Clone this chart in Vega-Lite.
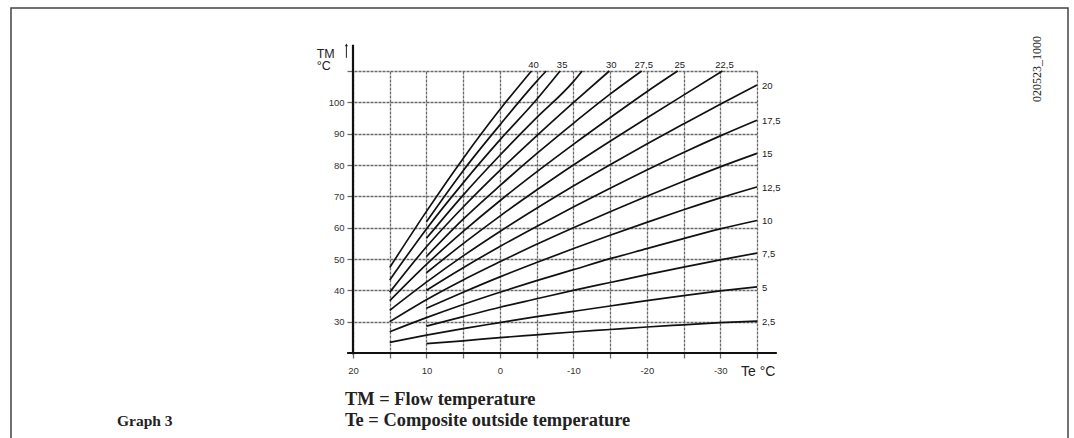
{
  "$schema": "https://vega.github.io/schema/vega-lite/v6.json",
  "width": 404,
  "height": 282,
  "autosize": {"type": "none"},
  "padding": {"left": 353, "top": 71, "right": 317, "bottom": 85},
  "background": "white",
  "config": {"view": {"stroke": null}, "text": {"font": "Liberation Sans"}},
  "datasets": {
    "curves": [
      {"c": 40, "te": 15, "tm": 47.3}, {"c": 40, "te": 10, "tm": 65.2}, {"c": 40, "te": 5, "tm": 82.1}, {"c": 40, "te": 0, "tm": 97.7}, {"c": 40, "te": -4.3, "tm": 110, "label": "40"},
      {"c": 37.5, "te": 10, "tm": 61.9}, {"c": 37.5, "te": 5, "tm": 78.2}, {"c": 37.5, "te": 0, "tm": 92.8}, {"c": 37.5, "te": -5, "tm": 106.7}, {"c": 37.5, "te": -6.3, "tm": 110},
      {"c": 35, "te": 15, "tm": 43.3}, {"c": 35, "te": 10, "tm": 59.6}, {"c": 35, "te": 5, "tm": 74.3}, {"c": 35, "te": 0, "tm": 88.0}, {"c": 35, "te": -5, "tm": 100.9}, {"c": 35, "te": -8.2, "tm": 110, "label": "35"},
      {"c": 32.5, "te": 10, "tm": 56.6}, {"c": 32.5, "te": 5, "tm": 70.4}, {"c": 32.5, "te": 0, "tm": 83.1}, {"c": 32.5, "te": -5, "tm": 95.1}, {"c": 32.5, "te": -10, "tm": 106.6}, {"c": 32.5, "te": -11.2, "tm": 110},
      {"c": 30, "te": 15, "tm": 39.4}, {"c": 30, "te": 10, "tm": 53.9}, {"c": 30, "te": 5, "tm": 66.6}, {"c": 30, "te": 0, "tm": 78.3}, {"c": 30, "te": -5, "tm": 89.3}, {"c": 30, "te": -10, "tm": 99.9}, {"c": 30, "te": -14.9, "tm": 110, "label": "30"},
      {"c": 27.5, "te": 10, "tm": 50.8}, {"c": 27.5, "te": 5, "tm": 62.7}, {"c": 27.5, "te": 0, "tm": 73.4}, {"c": 27.5, "te": -5, "tm": 83.6}, {"c": 27.5, "te": -10, "tm": 93.3}, {"c": 27.5, "te": -15, "tm": 102.6}, {"c": 27.5, "te": -19.3, "tm": 110, "label": "27,5"},
      {"c": 25, "te": 15, "tm": 36.7}, {"c": 25, "te": 10, "tm": 48.3}, {"c": 25, "te": 5, "tm": 58.8}, {"c": 25, "te": 0, "tm": 68.6}, {"c": 25, "te": -5, "tm": 77.8}, {"c": 25, "te": -10, "tm": 86.6}, {"c": 25, "te": -15, "tm": 95.1}, {"c": 25, "te": -20, "tm": 103.4}, {"c": 25, "te": -24.2, "tm": 110, "label": "25"},
      {"c": 22.5, "te": 10, "tm": 45.6}, {"c": 22.5, "te": 5, "tm": 54.9}, {"c": 22.5, "te": 0, "tm": 63.7}, {"c": 22.5, "te": -5, "tm": 72.0}, {"c": 22.5, "te": -10, "tm": 80.0}, {"c": 22.5, "te": -15, "tm": 87.6}, {"c": 22.5, "te": -20, "tm": 95.0}, {"c": 22.5, "te": -25, "tm": 102.3}, {"c": 22.5, "te": -30.3, "tm": 110, "label": "22,5"},
      {"c": 20, "te": 15, "tm": 33.6}, {"c": 20, "te": 10, "tm": 42.6}, {"c": 20, "te": 5, "tm": 51.0}, {"c": 20, "te": 0, "tm": 58.8}, {"c": 20, "te": -5, "tm": 66.2}, {"c": 20, "te": -10, "tm": 73.3}, {"c": 20, "te": -15, "tm": 80.1}, {"c": 20, "te": -20, "tm": 86.7}, {"c": 20, "te": -25, "tm": 93.1}, {"c": 20, "te": -30, "tm": 99.4}, {"c": 20, "te": -35, "tm": 105.5, "label": "20"},
      {"c": 17.5, "te": 10, "tm": 40.0}, {"c": 17.5, "te": 5, "tm": 47.2}, {"c": 17.5, "te": 0, "tm": 54.0}, {"c": 17.5, "te": -5, "tm": 60.4}, {"c": 17.5, "te": -10, "tm": 66.6}, {"c": 17.5, "te": -15, "tm": 72.6}, {"c": 17.5, "te": -20, "tm": 78.4}, {"c": 17.5, "te": -25, "tm": 84.0}, {"c": 17.5, "te": -30, "tm": 89.3}, {"c": 17.5, "te": -35, "tm": 94.3, "label": "17,5"},
      {"c": 15, "te": 15, "tm": 30.0}, {"c": 15, "te": 10, "tm": 37.0}, {"c": 15, "te": 5, "tm": 43.3}, {"c": 15, "te": 0, "tm": 49.1}, {"c": 15, "te": -5, "tm": 54.7}, {"c": 15, "te": -10, "tm": 60.0}, {"c": 15, "te": -15, "tm": 65.1}, {"c": 15, "te": -20, "tm": 70.0}, {"c": 15, "te": -25, "tm": 74.8}, {"c": 15, "te": -30, "tm": 79.4}, {"c": 15, "te": -35, "tm": 83.7, "label": "15"},
      {"c": 12.5, "te": 10, "tm": 34.3}, {"c": 12.5, "te": 5, "tm": 39.4}, {"c": 12.5, "te": 0, "tm": 44.3}, {"c": 12.5, "te": -5, "tm": 48.9}, {"c": 12.5, "te": -10, "tm": 53.3}, {"c": 12.5, "te": -15, "tm": 57.6}, {"c": 12.5, "te": -20, "tm": 61.7}, {"c": 12.5, "te": -25, "tm": 65.7}, {"c": 12.5, "te": -30, "tm": 69.5}, {"c": 12.5, "te": -35, "tm": 73.0, "label": "12,5"},
      {"c": 10, "te": 15, "tm": 26.8}, {"c": 10, "te": 10, "tm": 31.3}, {"c": 10, "te": 5, "tm": 35.5}, {"c": 10, "te": 0, "tm": 39.4}, {"c": 10, "te": -5, "tm": 43.1}, {"c": 10, "te": -10, "tm": 46.6}, {"c": 10, "te": -15, "tm": 50.1}, {"c": 10, "te": -20, "tm": 53.3}, {"c": 10, "te": -25, "tm": 56.5}, {"c": 10, "te": -30, "tm": 59.6}, {"c": 10, "te": -35, "tm": 62.3, "label": "10"},
      {"c": 7.5, "te": 10, "tm": 28.6}, {"c": 7.5, "te": 5, "tm": 31.6}, {"c": 7.5, "te": 0, "tm": 34.6}, {"c": 7.5, "te": -5, "tm": 37.3}, {"c": 7.5, "te": -10, "tm": 40.0}, {"c": 7.5, "te": -15, "tm": 42.5}, {"c": 7.5, "te": -20, "tm": 45.0}, {"c": 7.5, "te": -25, "tm": 47.4}, {"c": 7.5, "te": -30, "tm": 49.7}, {"c": 7.5, "te": -35, "tm": 51.9, "label": "7,5"},
      {"c": 5, "te": 15, "tm": 23.4}, {"c": 5, "te": 10, "tm": 25.7}, {"c": 5, "te": 5, "tm": 27.8}, {"c": 5, "te": 0, "tm": 29.7}, {"c": 5, "te": -5, "tm": 31.6}, {"c": 5, "te": -10, "tm": 33.3}, {"c": 5, "te": -15, "tm": 35.0}, {"c": 5, "te": -20, "tm": 36.7}, {"c": 5, "te": -25, "tm": 38.3}, {"c": 5, "te": -30, "tm": 39.8}, {"c": 5, "te": -35, "tm": 41.1, "label": "5"},
      {"c": 2.5, "te": 10, "tm": 23.0}, {"c": 2.5, "te": 5, "tm": 23.9}, {"c": 2.5, "te": 0, "tm": 24.9}, {"c": 2.5, "te": -5, "tm": 25.8}, {"c": 2.5, "te": -10, "tm": 26.7}, {"c": 2.5, "te": -15, "tm": 27.5}, {"c": 2.5, "te": -20, "tm": 28.3}, {"c": 2.5, "te": -25, "tm": 29.0}, {"c": 2.5, "te": -30, "tm": 29.7}, {"c": 2.5, "te": -35, "tm": 30.2, "label": "2,5"}
    ]
  },
  "layer": [
    {
      "data": {"name": "curves"},
      "mark": {"type": "line", "stroke": "#111", "strokeWidth": 1.7, "interpolate": "monotone"},
      "encoding": {
        "x": {"field": "te", "type": "quantitative", "scale": {"domain": [-35, 20], "reverse": true, "nice": false, "zero": false},
          "axis": {"title": null, "values": [20, 15, 10, 5, 0, -5, -10, -15, -20, -25, -30, -35], "tickCount": 30, "domain": false,
            "grid": true, "gridColor": "#6a6a6a", "gridDash": [3, 1], "gridWidth": 1.3, "gridOpacity": 1,
            "ticks": true, "tickSize": 5, "tickColor": "#6a6a6a", "tickWidth": 1.3,
            "labelExpr": "datum.value % 10 == 0 ? '' + datum.value : ''",
            "labelFont": "Liberation Sans", "labelFontSize": 9.5, "labelColor": "#333", "labelPadding": 7, "labelFlush": false, "labelOverlap": false}},
        "y": {"field": "tm", "type": "quantitative", "scale": {"domain": [20, 110], "nice": false, "zero": false},
          "axis": {"title": null, "values": [30, 40, 50, 60, 70, 80, 90, 100, 110], "tickCount": 30, "domain": false,
            "grid": true, "gridColor": "#6a6a6a", "gridDash": [3, 1], "gridWidth": 1.3, "gridOpacity": 1,
            "ticks": true, "tickSize": 6, "tickColor": "#6a6a6a", "tickWidth": 1.3,
            "labelExpr": "datum.value <= 100 ? '' + datum.value : ''",
            "labelFont": "Liberation Sans", "labelFontSize": 9.5, "labelColor": "#333", "labelPadding": 3, "labelOverlap": false}},
        "detail": {"field": "c", "type": "nominal"}
      }
    },
    {
      "data": {"values": [{}]},
      "mark": {"type": "rect", "fillOpacity": 0, "stroke": "#444", "strokeWidth": 1.5},
      "encoding": {
        "x": {"datum": 66.56, "type": "quantitative"},
        "x2": {"datum": -77.34},
        "y": {"datum": 130.1, "type": "quantitative"},
        "y2": {"datum": -12}
      }
    },
    {
      "data": {"name": "curves"},
      "transform": [{"filter": "datum.label && datum.tm >= 110"}],
      "mark": {"type": "text", "align": "center", "baseline": "bottom", "dx": 2, "dy": -1, "fontSize": 9.5, "fill": "#222"},
      "encoding": {
        "x": {"field": "te", "type": "quantitative"},
        "y": {"field": "tm", "type": "quantitative"},
        "text": {"field": "label"}
      }
    },
    {
      "data": {"name": "curves"},
      "transform": [{"filter": "datum.label && datum.te <= -35"}],
      "mark": {"type": "text", "align": "left", "baseline": "middle", "dx": 5, "dy": 1, "fontSize": 9.5, "fill": "#222"},
      "encoding": {
        "x": {"field": "te", "type": "quantitative"},
        "y": {"field": "tm", "type": "quantitative"},
        "text": {"field": "label"}
      }
    },
    {
      "data": {"values": [{}]},
      "mark": {"type": "rule", "stroke": "#111", "strokeWidth": 2.2},
      "encoding": {
        "x": {"datum": 20.8, "type": "quantitative"},
        "x2": {"datum": -37.7},
        "y": {"datum": 20, "type": "quantitative"}
      }
    },
    {
      "data": {"values": [{}]},
      "mark": {"type": "rule", "stroke": "#111", "strokeWidth": 2.2},
      "encoding": {
        "x": {"datum": 20, "type": "quantitative"},
        "y": {"datum": 19.6, "type": "quantitative"},
        "y2": {"datum": 118.4}
      }
    },
    {
      "data": {"values": [{}]},
      "mark": {"type": "rule", "stroke": "#222", "strokeWidth": 1},
      "encoding": {
        "x": {"datum": 20.9, "type": "quantitative"},
        "y": {"datum": 114.2, "type": "quantitative"},
        "y2": {"datum": 118.2}
      }
    },
    {
      "data": {"values": [{}]},
      "mark": {"type": "point", "shape": "triangle-up", "filled": true, "size": 10, "color": "#222", "opacity": 1},
      "encoding": {
        "x": {"datum": 20.9, "type": "quantitative"},
        "y": {"datum": 118.3, "type": "quantitative"}
      }
    },
    {
      "data": {"values": [{}]},
      "mark": {"type": "text", "text": "TM", "align": "left", "baseline": "alphabetic", "fontSize": 12.5, "fill": "#222"},
      "encoding": {
        "x": {"datum": 24.94, "type": "quantitative"},
        "y": {"datum": 114.3, "type": "quantitative"}
      }
    },
    {
      "data": {"values": [{}]},
      "mark": {"type": "text", "text": "°C", "align": "left", "baseline": "alphabetic", "fontSize": 12.5, "fill": "#222"},
      "encoding": {
        "x": {"datum": 24.94, "type": "quantitative"},
        "y": {"datum": 110.3, "type": "quantitative"}
      }
    },
    {
      "data": {"values": [{}]},
      "mark": {"type": "text", "text": "Te °C", "align": "left", "baseline": "alphabetic", "fontSize": 14, "fill": "#222"},
      "encoding": {
        "x": {"datum": -32.82, "type": "quantitative"},
        "y": {"datum": 12.66, "type": "quantitative"}
      }
    },
    {
      "data": {"values": [{}]},
      "mark": {"type": "text", "text": "TM = Flow temperature", "align": "left", "baseline": "alphabetic", "font": "Liberation Serif", "fontWeight": "bold", "fontSize": 18.4, "fill": "#222"},
      "encoding": {
        "x": {"datum": 21.09, "type": "quantitative"},
        "y": {"datum": 3.4, "type": "quantitative"}
      }
    },
    {
      "data": {"values": [{}]},
      "mark": {"type": "text", "text": "Te = Composite outside temperature", "align": "left", "baseline": "alphabetic", "font": "Liberation Serif", "fontWeight": "bold", "fontSize": 18.4, "fill": "#222"},
      "encoding": {
        "x": {"datum": 21.09, "type": "quantitative"},
        "y": {"datum": -3.3, "type": "quantitative"}
      }
    },
    {
      "data": {"values": [{}]},
      "mark": {"type": "text", "text": "Graph 3", "align": "left", "baseline": "alphabetic", "font": "Liberation Serif", "fontWeight": "bold", "fontSize": 15.5, "fill": "#222"},
      "encoding": {
        "x": {"datum": 52.13, "type": "quantitative"},
        "y": {"datum": -3.3, "type": "quantitative"}
      }
    },
    {
      "data": {"values": [{}]},
      "mark": {"type": "text", "text": "020523_1000", "align": "center", "baseline": "middle", "angle": 270, "font": "Liberation Serif", "fontSize": 12, "fill": "#222"},
      "encoding": {
        "x": {"datum": -73.12, "type": "quantitative"},
        "y": {"datum": 110.64, "type": "quantitative"}
      }
    }
  ]
}
